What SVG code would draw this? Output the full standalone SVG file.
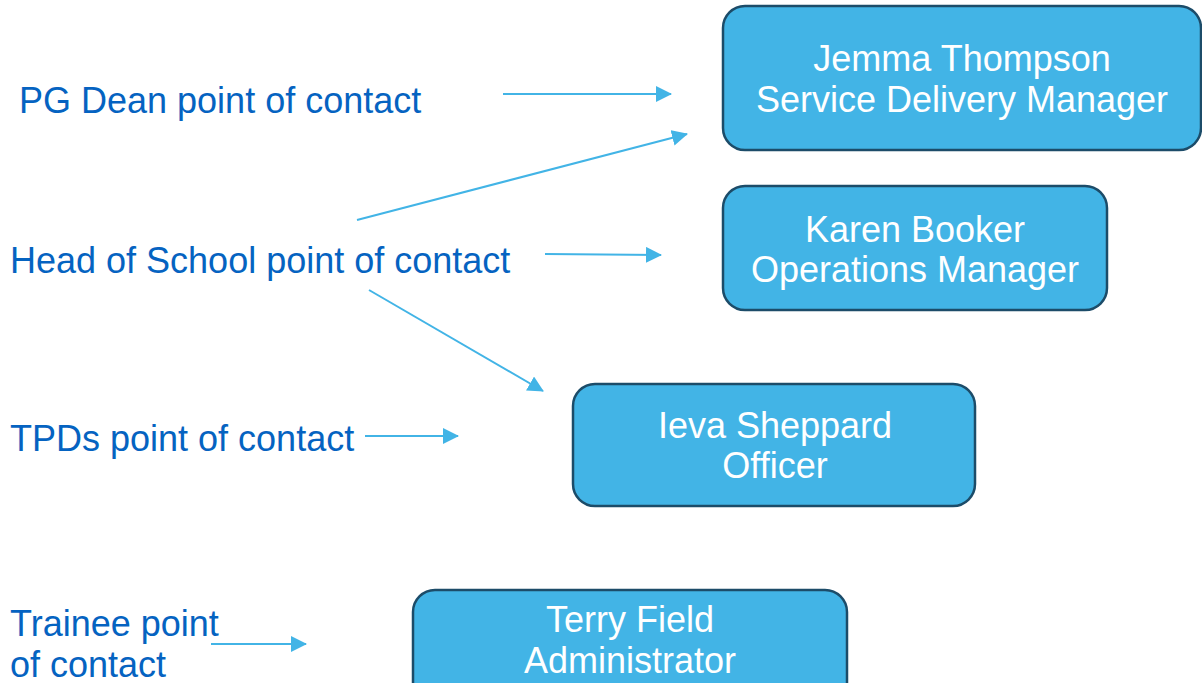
<svg xmlns="http://www.w3.org/2000/svg" width="1202" height="683" viewBox="0 0 1202 683">
<style>
  .lbl { font-family: "Liberation Sans", Arial, sans-serif; font-size: 36px; fill: #0563c1; }
  .box { fill: #42b4e6; stroke: #1c4c69; stroke-width: 2.5; }
  .bt { font-family: "Liberation Sans", Arial, sans-serif; font-size: 36px; fill: #ffffff; text-anchor: middle; }
  .conn { stroke: #42b4e6; stroke-width: 2; fill: none; marker-end: url(#ah); }
</style>
<defs>
  <marker id="ah" markerUnits="userSpaceOnUse" markerWidth="16" markerHeight="16" refX="15" refY="8" orient="auto" viewBox="0 0 16 16">
    <path d="M0,0 L16,8 L0,16 z" fill="#42b4e6"/>
  </marker>
</defs>
<rect width="1202" height="683" fill="#ffffff"/>

<g id="label-pgdean"><text class="lbl" x="19" y="113">PG Dean point of contact</text></g>
<g id="label-head"><text class="lbl" x="10" y="273">Head of School point of contact</text></g>
<g id="label-tpds"><text class="lbl" x="10" y="451">TPDs point of contact</text></g>
<g id="label-trainee"><text class="lbl" x="10" y="636">Trainee point</text><text class="lbl" x="10" y="677">of contact</text></g>

<g id="node-jemma">
  <rect class="box" x="723" y="6" width="478" height="144" rx="22"/>
  <text class="bt" x="962" y="71">Jemma Thompson</text>
  <text class="bt" x="962" y="112">Service Delivery Manager</text>
</g>
<g id="node-karen">
  <rect class="box" x="723" y="186" width="384" height="124" rx="22"/>
  <text class="bt" x="915" y="242">Karen Booker</text>
  <text class="bt" x="915" y="282">Operations Manager</text>
</g>
<g id="node-ieva">
  <rect class="box" x="573" y="384" width="402" height="122" rx="22"/>
  <text class="bt" x="775" y="438">Ieva Sheppard</text>
  <text class="bt" x="775" y="478">Officer</text>
</g>
<g id="node-terry">
  <rect class="box" x="413" y="590" width="434" height="120" rx="22"/>
  <text class="bt" x="630" y="632">Terry Field</text>
  <text class="bt" x="630" y="673">Administrator</text>
</g>

<g id="connectors">
  <line class="conn" x1="503" y1="94" x2="671" y2="94"/>
  <line class="conn" x1="357" y1="220" x2="687" y2="134"/>
  <line class="conn" x1="545" y1="254" x2="661" y2="255"/>
  <line class="conn" x1="369" y1="290" x2="543" y2="391"/>
  <line class="conn" x1="365" y1="436" x2="458" y2="436"/>
  <line class="conn" x1="211" y1="644" x2="306" y2="644"/>
</g>
</svg>
